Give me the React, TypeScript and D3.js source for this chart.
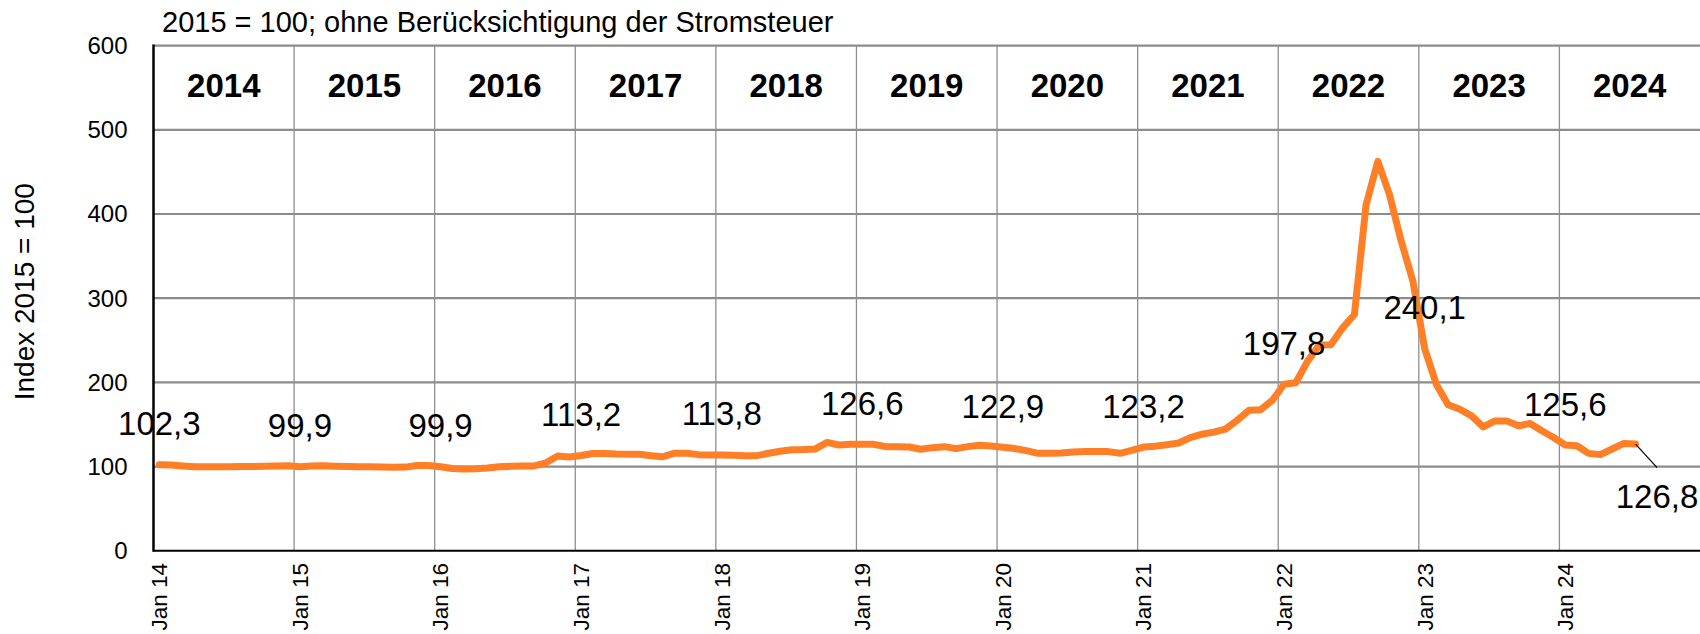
import React from "react";
import * as d3 from "d3";

// ---- data (monthly index, 2015 = 100) ----
const v2014 = [102.3, 102.0, 100.8, 99.8, 99.8, 99.8, 99.9, 100.0, 100.2, 100.4, 100.6, 100.9];
const v2015 = [99.9, 100.8, 100.9, 100.5, 100.2, 99.9, 99.8, 99.6, 99.2, 99.4, 101.2, 101.4];
const v2016 = [99.9, 97.8, 97.2, 97.4, 98.4, 99.8, 100.3, 100.6, 100.8, 104.5, 112.5, 111.5];
const v2017 = [113.2, 115.6, 115.6, 115.0, 114.8, 114.6, 113.0, 111.8, 116.0, 116.0, 114.2, 113.8];
const v2018 = [113.8, 113.4, 112.8, 113.0, 115.8, 118.2, 120.0, 120.2, 121.0, 128.7, 125.7, 126.5];
const v2019 = [126.6, 126.4, 123.7, 123.7, 123.3, 120.6, 122.5, 123.7, 121.4, 123.7, 125.3, 124.5];
const v2020 = [122.9, 121.4, 119.0, 115.8, 115.8, 116.2, 117.4, 117.8, 117.8, 117.8, 115.8, 119.4];
const v2021 = [123.2, 124.3, 126.0, 128.0, 134.5, 138.5, 141.0, 144.5, 155.0, 166.8, 167.6, 178.7];
const v2022 = [197.8, 199.6, 225.0, 244.3, 244.8, 264.8, 280.6, 411.0, 462.5, 423.0, 367.6, 320.0];
const v2023 = [240.1, 197.6, 173.5, 168.1, 160.2, 147.2, 154.3, 154.3, 148.4, 151.2, 142.5, 134.6];
const v2024 = [125.6, 124.8, 115.7, 114.2, 120.9, 127.5, 126.8];

const years = ["2014", "2015", "2016", "2017", "2018", "2019", "2020", "2021", "2022", "2023", "2024"];
const janLabels = ["Jan 14", "Jan 15", "Jan 16", "Jan 17", "Jan 18", "Jan 19", "Jan 20", "Jan 21", "Jan 22", "Jan 23", "Jan 24"];
const yTicks = [0, 100, 200, 300, 400, 500, 600];
const labeledMonths = [0, 12, 24, 36, 48, 60, 72, 84, 96, 108, 120];

const title = "2015 = 100; ohne Berücksichtigung der Stromsteuer";
const yTitle = "Index 2015 = 100";

const values = [
  ...v2014, ...v2015, ...v2016, ...v2017, ...v2018, ...v2019,
  ...v2020, ...v2021, ...v2022, ...v2023, ...v2024,
];

const W = 1700;
const H = 634;
const FONT = "'Liberation Sans', Arial, sans-serif";

const fmt = (v: number) => v.toFixed(1).replace(".", ",");

export default function App() {
  const nCat = years.length * 12;
  const x = d3.scaleLinear().domain([0, nCat]).range([153.5, 1700]);
  const y = d3.scaleLinear().domain([0, 600]).range([550.8, 45.6]);
  const px = (i: number) => x(i + 0.5);

  const line = d3
    .line<number>()
    .x((_, i) => px(i))
    .y((d) => y(d));

  const last = values.length - 1;
  const lastX = px(last);
  const lastY = y(values[last]);

  return (
    <svg
      width={W}
      height={H}
      style={{ position: "absolute", left: 0, top: 0, display: "block", background: "#fff" }}
      fontFamily={FONT}
    >
      <rect x={0} y={0} width={W} height={H} fill="#fff" />
      {/* title */}
      <text x={162} y={32} fontSize={29} fill="#000">
        {title}
      </text>

      {/* horizontal gridlines */}
      {yTicks.filter((t) => t > 0).map((t) => (
        <line key={"h" + t} x1={x(0)} x2={W} y1={y(t)} y2={y(t)} stroke="#8c8c8c" strokeWidth={2.2} />
      ))}
      {/* vertical year gridlines */}
      {years.map((_, i) =>
        i > 0 ? (
          <line key={"v" + i} x1={x(i * 12)} x2={x(i * 12)} y1={y(600)} y2={y(0)} stroke="#8f8f8f" strokeWidth={1.3} />
        ) : null
      )}

      {/* axes */}
      <line x1={x(0)} x2={x(0)} y1={y(600) - 1} y2={y(0) + 1} stroke="#000" strokeWidth={2.5} />
      <line x1={x(0)} x2={W} y1={y(0)} y2={y(0)} stroke="#000" strokeWidth={2} />

      {/* y tick labels */}
      {yTicks.map((t) => (
        <text key={"yt" + t} x={127.5} y={y(t)} dy="0.35em" textAnchor="end" fontSize={24} fill="#000">
          {t}
        </text>
      ))}

      {/* y axis title */}
      <text
        transform={`translate(24,291.7) rotate(-90)`}
        textAnchor="middle"
        dy="0.35em"
        fontSize={28}
        fill="#000"
      >
        {yTitle}
      </text>

      {/* year band labels */}
      {years.map((yr, i) => (
        <text key={"yr" + yr} x={x(i * 12 + 6)} y={97} textAnchor="middle" fontSize={33} fontWeight="bold" fill="#000">
          {yr}
        </text>
      ))}

      {/* x labels */}
      {janLabels.map((l, i) => (
        <text
          key={"xl" + l}
          transform={`translate(${px(i * 12)},563) rotate(-90)`}
          textAnchor="end"
          dy="0.35em"
          fontSize={22.5}
          fill="#000"
        >
          {l}
        </text>
      ))}

      {/* series line */}
      <path
        d={line(values) || ""}
        fill="none"
        stroke="#FF7F27"
        strokeWidth={7}
        strokeLinejoin="round"
        strokeLinecap="round"
      />

      {/* data labels */}
      {labeledMonths.map((m) => (
        <text key={"dl" + m} x={px(m)} y={y(values[m]) - 29.5} textAnchor="middle" fontSize={33} fill="#000">
          {fmt(values[m])}
        </text>
      ))}
      {/* last value with leader line */}
      <line x1={lastX} y1={lastY} x2={lastX + 21.5} y2={lastY + 23.5} stroke="#000" strokeWidth={1.2} />
      <text x={lastX + 21.5} y={lastY + 63.5} textAnchor="middle" fontSize={33} fill="#000">
        {fmt(values[last])}
      </text>
    </svg>
  );
}
